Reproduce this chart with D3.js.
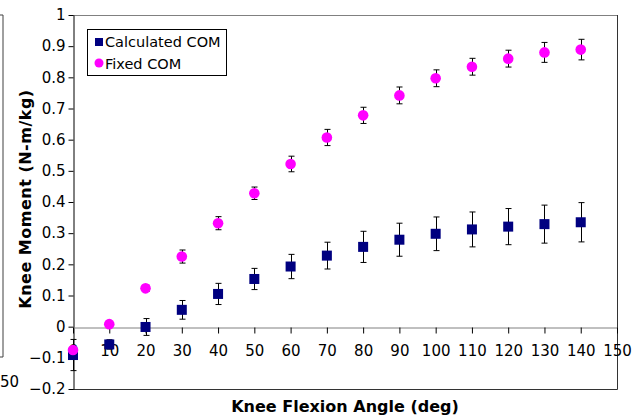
<!DOCTYPE html>
<html>
<head>
<meta charset="utf-8">
<script src="https://cdn.jsdelivr.net/npm/d3@7"></script>
<style>
    body { margin: 0; background: #fff; }
    svg { display: block; font-family: "DejaVu Sans", Verdana, sans-serif; }
</style>
</head>
<body>
<div id="chart"></div>
<script>
// knee flexion angle (deg)
const angles = [0, 10, 20, 30, 40, 50, 60, 70, 80, 90, 100, 110, 120, 130, 140];

// Calculated COM: mean and +/- error
const calcMean = [-0.091, -0.057, -0.001, 0.054, 0.105, 0.153, 0.193, 0.228, 0.256, 0.279, 0.298, 0.312, 0.321, 0.329, 0.335];
const calcErr = [0.05, 0.015, 0.027, 0.03, 0.034, 0.034, 0.039, 0.043, 0.05, 0.053, 0.054, 0.056, 0.058, 0.061, 0.063];

// Fixed COM: mean and +/- error
const fixedMean = [-0.075, 0.008, 0.123, 0.225, 0.332, 0.428, 0.522, 0.607, 0.678, 0.742, 0.797, 0.834, 0.860, 0.880, 0.889];
const fixedErr = [0.01, 0.008, 0.01, 0.021, 0.021, 0.02, 0.025, 0.026, 0.026, 0.027, 0.027, 0.027, 0.027, 0.032, 0.033];

const xTicks = [0, 10, 20, 30, 40, 50, 60, 70, 80, 90, 100, 110, 120, 130, 140, 150];
const yTicks = [-0.2, -0.1, 0, 0.1, 0.2, 0.3, 0.4, 0.5, 0.6, 0.7, 0.8, 0.9, 1];

const seriesNames = ["Calculated COM", "Fixed COM"];

const width = 639;
const height = 419;
const plot = { left: 73, right: 617, top: 15, bottom: 389 };

const svg = d3.select("#chart")
    .append("svg")
    .attr("width", width)
    .attr("height", height);

const x = d3.scaleLinear().domain([0, 150]).range([plot.left, plot.right]);
const y = d3.scaleLinear().domain([-0.2, 1]).range([plot.bottom, plot.top]);

// leftover edge of a neighbouring chart
svg.append("path")
    .attr("d", "M0,15H3V357H0")
    .attr("fill", "none")
    .attr("stroke", "#404040");
svg.append("text")
    .attr("x", 0)
    .attr("y", 387)
    .attr("font-size", 15)
    .text("50");

// plot area border
svg.append("line")
    .attr("x1", plot.left).attr("x2", plot.right)
    .attr("y1", plot.top + 0.5).attr("y2", plot.top + 0.5)
    .attr("stroke", "#808080");
svg.append("path")
    .attr("d", `M${plot.right + 0.5},${plot.top}V${plot.bottom + 0.5}H${plot.left}`)
    .attr("fill", "none")
    .attr("stroke", "#333");

// y axis
const yAxis = svg.append("g")
    .attr("transform", `translate(${plot.left + 0.5},0)`)
    .call(d3.axisLeft(y).tickValues(yTicks).tickSize(5).tickSizeOuter(0)
        .tickFormat(d => d3.format("")(+d.toFixed(1))));
yAxis.select(".domain").attr("stroke", "#000");
yAxis.selectAll(".tick line").attr("stroke", "#000");
yAxis.selectAll(".tick text")
    .attr("x", -8)
    .attr("font-size", 15)
    .attr("font-family", "DejaVu Sans, Verdana, sans-serif")
    .attr("fill", "#000");

// x axis sits on y = 0
const xAxis = svg.append("g")
    .attr("transform", `translate(0,${Math.round(y(0)) + 0.5})`)
    .call(d3.axisBottom(x).tickValues(xTicks).tickSize(6).tickSizeOuter(0));
xAxis.select(".domain").attr("stroke", "#808080");
xAxis.selectAll(".tick line").attr("stroke", "#000");
xAxis.selectAll(".tick text")
    .attr("y", 18)
    .attr("font-size", 15)
    .attr("font-family", "DejaVu Sans, Verdana, sans-serif")
    .attr("fill", "#000");

// axis titles
svg.append("text")
    .attr("x", (plot.left + plot.right) / 2)
    .attr("y", 412)
    .attr("text-anchor", "middle")
    .attr("font-size", 16)
    .attr("font-weight", "bold")
    .text("Knee Flexion Angle (deg)");

svg.append("text")
    .attr("transform", "translate(31,199) rotate(-90)")
    .attr("text-anchor", "middle")
    .attr("font-size", 16)
    .attr("font-weight", "bold")
    .attr("letter-spacing", 0.5)
    .text("Knee Moment (N-m/kg)");

const calcData = angles.map((a, i) => ({ x: a, y: calcMean[i], e: calcErr[i] }));
const fixedData = angles.map((a, i) => ({ x: a, y: fixedMean[i], e: fixedErr[i] }));

function drawErrorBars(data) {
    const g = svg.append("g").attr("stroke", "#000").attr("stroke-width", 1);
    data.forEach(d => {
        const cx = Math.round(x(d.x)) + 0.5;
        const top = y(d.y + d.e);
        const bot = y(d.y - d.e);
        g.append("line").attr("x1", cx).attr("x2", cx).attr("y1", top).attr("y2", bot);
        g.append("line").attr("x1", cx - 3).attr("x2", cx + 3).attr("y1", top).attr("y2", top);
        g.append("line").attr("x1", cx - 3).attr("x2", cx + 3).attr("y1", bot).attr("y2", bot);
    });
}

drawErrorBars(calcData);
drawErrorBars(fixedData);

svg.append("g")
    .selectAll("rect")
    .data(calcData)
    .enter().append("rect")
    .attr("x", d => x(d.x) - 5)
    .attr("y", d => y(d.y) - 5)
    .attr("width", 10)
    .attr("height", 10)
    .attr("fill", "#000080");

svg.append("g")
    .selectAll("circle")
    .data(fixedData)
    .enter().append("circle")
    .attr("cx", d => x(d.x))
    .attr("cy", d => y(d.y))
    .attr("r", 5.3)
    .attr("fill", "#ff00ff");

// legend
const legend = svg.append("g");
legend.append("rect")
    .attr("x", 87.5).attr("y", 29.5)
    .attr("width", 139).attr("height", 46)
    .attr("fill", "#fff")
    .attr("stroke", "#000");
legend.append("rect")
    .attr("x", 95).attr("y", 38)
    .attr("width", 8).attr("height", 8)
    .attr("fill", "#000080");
legend.append("circle")
    .attr("cx", 99).attr("cy", 63)
    .attr("r", 4.5)
    .attr("fill", "#ff00ff");
legend.selectAll("text")
    .data(seriesNames)
    .enter().append("text")
    .attr("x", 105)
    .attr("y", (d, i) => 47 + i * 22)
    .attr("font-size", 14.5)
    .text(d => d);
</script>
</body>
</html>
